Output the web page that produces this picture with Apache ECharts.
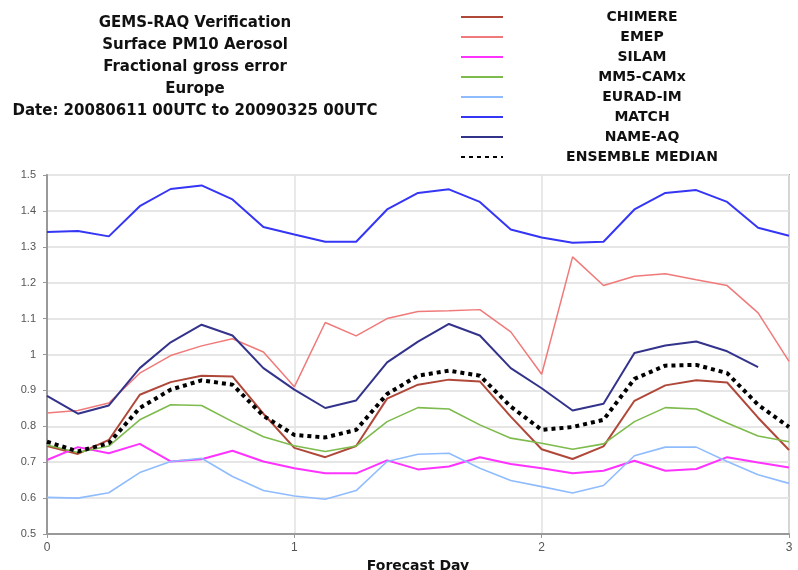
<!DOCTYPE html>
<html>
<head>
<meta charset="utf-8">
<script src="https://cdn.jsdelivr.net/npm/echarts@6/dist/echarts.min.js"></script>
<style>html,body{margin:0;padding:0;background:#fff}#c{width:798px;height:570px}</style>
</head>
<body>
<div id="c"></div>
<script>
// Forecast lead time in hours (plotted as days on the axis)
const forecastHours = [0,3,6,9,12,15,18,21,24,27,30,33,36,39,42,45,48,51,54,57,60,63,66,69,72];
const xTickLabels = ['0','1','2','3'];
const seriesNames = ['CHIMERE','EMEP','SILAM','MM5-CAMx','EURAD-IM','MATCH','NAME-AQ','ENSEMBLE MEDIAN'];

const chimere = [0.745,0.723,0.762,0.888,0.923,0.941,0.939,0.835,0.740,0.714,0.745,0.877,0.916,0.930,0.925,0.827,0.736,0.709,0.744,0.871,0.914,0.928,0.922,0.824,0.734];
const emep    = [0.837,0.844,0.865,0.948,0.997,1.024,1.044,1.007,0.910,1.089,1.052,1.100,1.120,1.122,1.125,1.063,0.945,1.272,1.192,1.218,1.225,1.208,1.192,1.116,0.981];
const silam   = [0.706,0.742,0.725,0.751,0.702,0.708,0.732,0.702,0.683,0.669,0.669,0.705,0.680,0.688,0.714,0.695,0.683,0.669,0.676,0.704,0.676,0.681,0.714,0.699,0.685];
const mm5camx = [0.748,0.727,0.745,0.818,0.860,0.858,0.813,0.771,0.746,0.730,0.745,0.813,0.852,0.848,0.804,0.767,0.753,0.736,0.751,0.813,0.852,0.848,0.809,0.773,0.757];
const euradim = [0.602,0.600,0.615,0.671,0.702,0.711,0.660,0.621,0.606,0.597,0.621,0.702,0.722,0.725,0.683,0.649,0.632,0.614,0.635,0.718,0.742,0.742,0.702,0.665,0.641];
const match   = [1.341,1.344,1.329,1.413,1.461,1.471,1.432,1.355,1.334,1.314,1.314,1.404,1.450,1.460,1.425,1.348,1.326,1.311,1.314,1.404,1.450,1.458,1.425,1.353,1.331];
const nameaq  = [0.885,0.835,0.858,0.962,1.034,1.083,1.053,0.962,0.902,0.851,0.872,0.978,1.036,1.085,1.053,0.962,0.906,0.844,0.863,1.004,1.025,1.036,1.009,0.965];
const median  = [0.757,0.730,0.753,0.851,0.902,0.928,0.916,0.829,0.776,0.769,0.790,0.890,0.941,0.955,0.941,0.855,0.790,0.798,0.818,0.932,0.969,0.971,0.948,0.860,0.798];

const titleLines = ['GEMS-RAQ Verification','Surface PM10 Aerosol','Fractional gross error','Europe','Date: 20080611 00UTC to 20090325 00UTC'];

const colors = ['#b0483a','#f07a7a','#ff33ff','#7dbb4c','#8fbcff','#3535f5','#33338c','#000000'];
const widths = [2,1.5,2,1.6,1.6,2,2,4];
const values = [chimere,emep,silam,mm5camx,euradim,match,nameaq,median];

function pairs(vals){ return vals.map((v,i)=>[forecastHours[i], v]); }

const series = seriesNames.map((n,k)=>({
  name:n, type:'line', data:pairs(values[k]), showSymbol:false, symbol:'none',
  animation:false, z: k===7?5:2,
  lineStyle:{color:colors[k], width:widths[k], type: k===7?[4,4]:'solid', cap:'butt'},
  itemStyle:{color:colors[k]}
}));

const chart = echarts.init(document.getElementById('c'));
chart.setOption({
  animation:false,
  backgroundColor:'#fff',
  title:{
    text: titleLines.join('\n'),
    left:190, top:7, textAlign:'center',
    textStyle:{fontFamily:'DejaVu Sans', fontWeight:'bold', fontSize:15, lineHeight:22, color:'#111'}
  },
  legend:{
    orient:'vertical', left:455, top:5, itemWidth:42, itemHeight:14, itemGap:6,
    data: seriesNames,
    itemStyle:{opacity:0},
    formatter: n => '{a|' + n + '}',
    textStyle:{
      rich:{a:{width:268, align:'center', fontFamily:'DejaVu Sans', fontWeight:'bold', fontSize:14, color:'#111'}}
    }
  },
  grid:{left:47, right:9, top:175, bottom:36, containLabel:false, outerBoundsMode:'none',
        show:true, borderColor:'#b0b0b0', borderWidth:2},
  xAxis:{
    type:'value', min:0, max:72, interval:24,
    name:'Forecast Day', nameLocation:'middle', nameGap:19,
    nameTextStyle:{fontFamily:'DejaVu Sans', fontWeight:'bold', fontSize:14, color:'#111'},
    axisLine:{lineStyle:{color:'#999', width:2}},
    axisTick:{show:true, length:4, lineStyle:{color:'#999'}},
    axisLabel:{formatter: v => xTickLabels[Math.round(v/24)], fontFamily:'Liberation Sans', fontSize:12, color:'#555', margin:8},
    splitLine:{show:true, lineStyle:{color:'#e2e2e2', width:1.5}}
  },
  yAxis:{
    type:'value', min:0.5, max:1.5, interval:0.1,
    axisLine:{show:true, lineStyle:{color:'#999', width:2}},
    axisTick:{show:true, length:4, lineStyle:{color:'#999'}},
    axisLabel:{fontFamily:'Liberation Sans', fontSize:11, color:'#555', margin:11,
      formatter: v => String(Math.round(v*10)/10)},
    splitLine:{show:true, lineStyle:{color:'#e6e6e6', width:2}}
  },
  series: series
});
</script>
</body>
</html>
